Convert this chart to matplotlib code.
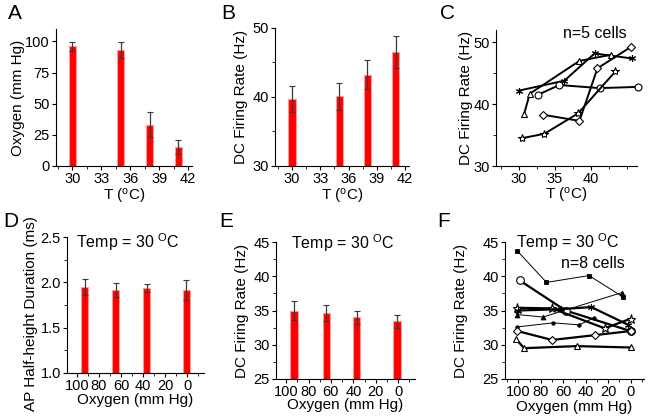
import matplotlib
matplotlib.use("Agg")
import matplotlib.pyplot as plt
from matplotlib.ticker import AutoMinorLocator

plt.rcParams['font.family'] = ['Liberation Sans', 'DejaVu Sans']
plt.rcParams['mathtext.fontset'] = 'custom'
plt.rcParams['mathtext.rm'] = 'Liberation Sans'
plt.rcParams['mathtext.it'] = 'Liberation Sans:italic'
plt.rcParams['font.size'] = 11

# ---------------- data ----------------
A_temp = [30, 35, 38, 41]
A_oxygen = [96, 93, 33, 15.3]
A_err = [3.5, 6.5, 10, 5.7]

B_temp = [30, 35, 38, 41]
B_rate = [39.7, 40.1, 43.2, 46.5]
B_err = [1.9, 2.0, 2.1, 2.3]

C_ast_x = [30.0, 36.3, 40.5, 45.7]
C_ast_y = [42.2, 43.8, 48.2, 47.4]
C_tri_x = [30.7, 31.5, 38.4, 42.8]
C_tri_y = [38.4, 41.7, 47.0, 48.0]
C_cir_x = [32.6, 35.6, 41.2, 46.6]
C_cir_y = [41.5, 43.1, 42.6, 42.8]
C_dia_x = [33.3, 38.4, 40.9, 45.6]
C_dia_y = [38.3, 37.3, 45.8, 49.3]
C_sta_x = [30.4, 33.5, 38.2, 43.4]
C_sta_y = [34.5, 35.2, 38.5, 45.3]

D_oxygen = [93, 65, 37, 1]
D_dur = [1.945, 1.915, 1.935, 1.915]
D_err = [0.09, 0.075, 0.045, 0.11]

E_oxygen = [93, 64, 37, 1]
E_rate = [35.0, 34.6, 34.0, 33.4]
E_err = [1.4, 1.2, 1.0, 0.9]

F_a_x = [101, 75, 37, 7];       F_a_y = [43.7, 39.1, 40.1, 37.0]
F_b_x = [101, 78, 8];           F_b_y = [34.4, 34.05, 37.6]
F_c_x = [101, 69, 46, 33];      F_c_y = [32.6, 33.2, 32.9, 33.9]
F_d_x = [99, 58, 0];            F_d_y = [39.4, 35.0, 32.0]
F_e_x = [101, 70, 23, 0];       F_e_y = [35.4, 35.3, 32.4, 33.8]
F_f_x = [100, 62, 35, 2];       F_f_y = [35.0, 35.2, 35.5, 32.9]
F_g_x = [101, 70, 32, 0];       F_g_y = [32.0, 30.7, 31.4, 32.0]
F_h_x = [102, 95, 48, 0];       F_h_y = [30.8, 29.5, 29.8, 29.6]

oxy_ticks = [100, 80, 60, 40, 20, 0]

# ---------------- figure ----------------
fig = plt.figure(figsize=(6.48, 4.18), dpi=100)
W, H = 648, 418
TICK_FS = 10.5
LAB_FS = 11
TXT_FS = 11.5

def make_ax(l, r, t, b):
    return fig.add_axes([l / W, 1 - b / H, (r - l) / W, (b - t) / H])

def style(ax, xl, yl, xlab, ylab, ylc=0.5):
    for s in ['top', 'right']:
        ax.spines[s].set_visible(False)
    ax.tick_params(direction='out', length=3, width=0.8, labelsize=TICK_FS, pad=1.5)
    ax.tick_params(which='minor', direction='out', length=2, width=0.6)
    ax.xaxis.set_minor_locator(AutoMinorLocator(2))
    ax.yaxis.set_minor_locator(AutoMinorLocator(2))
    ax.set_xlabel(xlab, fontsize=LAB_FS)
    ax.set_ylabel(ylab, fontsize=LAB_FS)
    ax.xaxis.set_label_coords(0.5, xl)
    ax.yaxis.set_label_coords(yl, ylc)
    ax.xaxis.label.set_va('top')
    ax.yaxis.label.set_va('center')

bar_kw = dict(color='#ff0000', edgecolor='#ff9a9a', linewidth=0.8)
err_kw = dict(fmt='none', ecolor='#3a3a3a', elinewidth=0.9, capsize=2.5, capthick=0.8)
TLAB = r'T ($^{\rm o}$C)'
OLAB = 'Oxygen (mm Hg)'
RLAB = 'DC Firing Rate (Hz)'
TEMP = r'Temp = 30 $^{\rm O}$C'

# A
axA = make_ax(56, 192, 29, 166)
axA.bar(A_temp, A_oxygen, width=0.75, **bar_kw)
axA.errorbar(A_temp, A_oxygen, yerr=A_err, **err_kw)
axA.set_xlim(28.3, 42.4)
axA.set_ylim(0, 110)
axA.set_xticks([30, 33, 36, 39, 42])
axA.set_yticks([0, 25, 50, 75, 100])
style(axA, -0.15, -0.28, TLAB, 'Oxygen (mm Hg)')
axA.yaxis.set_minor_locator(AutoMinorLocator(1))

# B
axB = make_ax(275, 409, 28, 166)
axB.bar(B_temp, B_rate, width=0.75, **bar_kw)
axB.errorbar(B_temp, B_rate, yerr=B_err, **err_kw)
axB.set_xlim(28.2, 42.4)
axB.set_ylim(30, 50)
axB.set_xticks([30, 33, 36, 39, 42])
axB.set_yticks([30, 40, 50])
style(axB, -0.15, -0.25, TLAB, RLAB)

# C
axC = make_ax(496, 637, 30, 166)
lkw = dict(color='black', linewidth=1.4, markersize=5, markerfacecolor='white',
           markeredgecolor='black', markeredgewidth=0.8, clip_on=False)
axC.plot(C_ast_x, C_ast_y, marker=(6, 2, 0), **lkw)
axC.plot(C_tri_x, C_tri_y, marker='^', **lkw)
axC.plot(C_cir_x, C_cir_y, marker='o', **lkw)
axC.plot(C_dia_x, C_dia_y, marker='D', **{**lkw, 'markersize': 4})
axC.plot(C_sta_x, C_sta_y, marker='*', **{**lkw, 'markersize': 6})
axC.set_xlim(26.8, 46.4)
axC.set_ylim(30, 52)
axC.set_xticks([30, 35, 40])
axC.set_yticks([30, 40, 50])
style(axC, -0.145, -0.21, TLAB, RLAB)
axC.text(0.70, 0.975, 'n=5 cells', transform=axC.transAxes, ha='center', va='center', fontsize=TXT_FS)

# D
axD = make_ax(67, 204, 237, 373)
axD.bar(D_oxygen, D_dur, width=6.5, **bar_kw)
axD.errorbar(D_oxygen, D_dur, yerr=D_err, **err_kw)
axD.set_xlim(109, -15)
axD.set_ylim(1.0, 2.5)
axD.set_xticks(oxy_ticks)
axD.set_yticks([1.0, 1.5, 2.0, 2.5])
style(axD, -0.15, -0.265, OLAB, 'AP Half-height Duration (ms)', ylc=0.44)
axD.text(0.445, 0.965, TEMP, transform=axD.transAxes, ha='center', va='center', fontsize=TXT_FS)

# E
axE = make_ax(276, 415, 242, 379)
axE.bar(E_oxygen, E_rate, width=6.5, **bar_kw)
axE.errorbar(E_oxygen, E_rate, yerr=E_err, **err_kw)
axE.set_xlim(109, -15)
axE.set_ylim(25, 45)
axE.set_xticks(oxy_ticks)
axE.set_yticks([25, 30, 35, 40, 45])
style(axE, -0.14, -0.245, OLAB, RLAB)
axE.text(0.48, 0.99, TEMP, transform=axE.transAxes, ha='center', va='center', fontsize=TXT_FS)

# F
axF = make_ax(505, 644, 242, 379)
thin = dict(color='black', linewidth=0.7, markersize=3, markeredgewidth=0.6, clip_on=False)
thick = dict(color='black', linewidth=1.6, markersize=5, markerfacecolor='white',
             markeredgecolor='black', markeredgewidth=0.8, clip_on=False)
axF.plot(F_a_x, F_a_y, marker='s', **thin)
axF.plot(F_b_x, F_b_y, marker='^', **{**thin, 'markersize': 3.5})
axF.plot(F_c_x, F_c_y, marker='o', **{**thin, 'markersize': 2.5})
axF.plot(F_d_x, F_d_y, marker='o', **{**thick, 'markersize': 5.5})
axF.plot(F_e_x, F_e_y, marker='*', **{**thick, 'markersize': 6.5})
axF.plot(F_f_x, F_f_y, marker=(6, 2, 0), **thick)
axF.plot(F_g_x, F_g_y, marker='D', **{**thick, 'markersize': 4.5})
axF.plot(F_h_x, F_h_y, marker='^', **thick)
axF.set_xlim(112, -12)
axF.set_ylim(25, 45)
axF.set_xticks(oxy_ticks)
axF.set_yticks([25, 30, 35, 40, 45])
style(axF, -0.15, -0.32, OLAB, RLAB)
axF.text(0.45, 1.0, TEMP, transform=axF.transAxes, ha='center', va='center', fontsize=TXT_FS)
axF.text(0.63, 0.84, 'n=8 cells', transform=axF.transAxes, ha='center', va='center', fontsize=TXT_FS)

# panel letters
for lab, x, y in [('A', 8, 4), ('B', 221, 4), ('C', 440, 4),
                  ('D', 3, 212), ('E', 219, 212), ('F', 437, 212)]:
    fig.text(x / W, 1 - y / H, lab, ha='left', va='top', fontsize=15)

fig.savefig('out.png', dpi=100)
